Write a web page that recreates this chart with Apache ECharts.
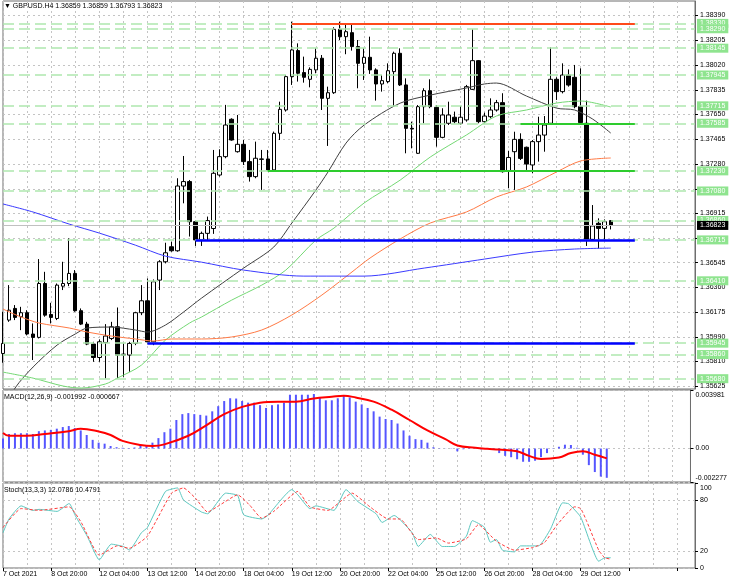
<!DOCTYPE html>
<html>
<head>
<meta charset="utf-8">
<script src="https://cdn.jsdelivr.net/npm/echarts@6/dist/echarts.min.js"></script>
<style>
  html, body { margin: 0; padding: 0; background: #fff; }
  #chart { width: 730px; height: 584px; }
</style>
</head>
<body>
<div id="chart"></div>
<script>
// ---- data ----
const tickLabels = ['7 Oct 2021', '8 Oct 20:00', '12 Oct 04:00', '13 Oct 12:00', '14 Oct 20:00',
  '18 Oct 04:00', '19 Oct 12:00', '20 Oct 20:00', '22 Oct 04:00', '25 Oct 12:00',
  '26 Oct 20:00', '28 Oct 04:00', '29 Oct 12:00'];

// H4 bars, MT4 order: open, high, low, close
const bars = [
  [1.35868, 1.36179, 1.35799, 1.35943], [1.36117, 1.36378, 1.36104, 1.36191], [1.36204, 1.36229, 1.36117, 1.36137],
  [1.36142, 1.36216, 1.36042, 1.36172], [1.36172, 1.36191, 1.36003, 1.36013], [1.36013, 1.36092, 1.35819, 1.35988],
  [1.35988, 1.36572, 1.35980, 1.36390], [1.36390, 1.36477, 1.36142, 1.36154], [1.36159, 1.36246, 1.36092, 1.36137],
  [1.36129, 1.36390, 1.36117, 1.36378], [1.36370, 1.36552, 1.36341, 1.36390], [1.36390, 1.36726, 1.36370, 1.36465],
  [1.36465, 1.36490, 1.36179, 1.36187], [1.36187, 1.36204, 1.36080, 1.36087], [1.36087, 1.36104, 1.35930, 1.35938],
  [1.35938, 1.35955, 1.35806, 1.35838], [1.35838, 1.35973, 1.35806, 1.35955], [1.35950, 1.36087, 1.35682, 1.35998],
  [1.35980, 1.36104, 1.35968, 1.36067], [1.36067, 1.36211, 1.35682, 1.35856], [1.35863, 1.35943, 1.35694, 1.35856],
  [1.35856, 1.35955, 1.35732, 1.35943], [1.35943, 1.36179, 1.35930, 1.36172], [1.36172, 1.36378, 1.36154, 1.36261],
  [1.36261, 1.36428, 1.35938, 1.35955], [1.35955, 1.36420, 1.35930, 1.36403], [1.36415, 1.36564, 1.36341, 1.36552],
  [1.36552, 1.36694, 1.36540, 1.36619], [1.36664, 1.36701, 1.36627, 1.36634], [1.36634, 1.37175, 1.36627, 1.37117],
  [1.37117, 1.37341, 1.36988, 1.37150], [1.37150, 1.37162, 1.36740, 1.36851], [1.36851, 1.36859, 1.36670, 1.36715],
  [1.36715, 1.36777, 1.36670, 1.36764], [1.36764, 1.36889, 1.36715, 1.36859], [1.36800, 1.37386, 1.36760, 1.37212],
  [1.37199, 1.37391, 1.37187, 1.37336], [1.37336, 1.37722, 1.37324, 1.37572], [1.37615, 1.37622, 1.37455, 1.37460],
  [1.37373, 1.37647, 1.37366, 1.37428], [1.37428, 1.37460, 1.37274, 1.37299], [1.37299, 1.37386, 1.37150, 1.37187],
  [1.37187, 1.37448, 1.37175, 1.37324], [1.37319, 1.37386, 1.37088, 1.37316], [1.37319, 1.37386, 1.37232, 1.37237],
  [1.37237, 1.37523, 1.37224, 1.37510], [1.37510, 1.37746, 1.37460, 1.37689], [1.37684, 1.37945, 1.37672, 1.37933],
  [1.37933, 1.38343, 1.37871, 1.38132], [1.38127, 1.38181, 1.37896, 1.37958], [1.37963, 1.38082, 1.37888, 1.37928],
  [1.37913, 1.38002, 1.37853, 1.37987], [1.37983, 1.38144, 1.37958, 1.38070], [1.38070, 1.38094, 1.37684, 1.37771],
  [1.37771, 1.37858, 1.37416, 1.37813], [1.37813, 1.38301, 1.37804, 1.38286], [1.38286, 1.38343, 1.38206, 1.38231],
  [1.38231, 1.38320, 1.38100, 1.38268], [1.38261, 1.38331, 1.38127, 1.38157], [1.38157, 1.38206, 1.37846, 1.38032],
  [1.38032, 1.38144, 1.37908, 1.38077], [1.38077, 1.38231, 1.37953, 1.37983], [1.37983, 1.37995, 1.37754, 1.37878],
  [1.37878, 1.37945, 1.37821, 1.37903], [1.37896, 1.38032, 1.37883, 1.37977], [1.37970, 1.38119, 1.37709, 1.38107],
  [1.38107, 1.38144, 1.37863, 1.37871], [1.37871, 1.37920, 1.37361, 1.37547], [1.37547, 1.37597, 1.37398, 1.37542],
  [1.37361, 1.37721, 1.37356, 1.37709], [1.37709, 1.37846, 1.37585, 1.37828], [1.37828, 1.37913, 1.37697, 1.37709],
  [1.37704, 1.37721, 1.37411, 1.37480], [1.37480, 1.37697, 1.37473, 1.37647], [1.37585, 1.37746, 1.37572, 1.37647],
  [1.37630, 1.37672, 1.37585, 1.37597], [1.37585, 1.37714, 1.37572, 1.37630], [1.37610, 1.37871, 1.37597, 1.37858],
  [1.37838, 1.38286, 1.37833, 1.38052], [1.38052, 1.38057, 1.37585, 1.37597], [1.37597, 1.37664, 1.37585, 1.37639],
  [1.37634, 1.37771, 1.37622, 1.37684], [1.37684, 1.37759, 1.37672, 1.37739], [1.37739, 1.37809, 1.37217, 1.37224],
  [1.37231, 1.37380, 1.37100, 1.37330], [1.37373, 1.37522, 1.37088, 1.37465], [1.37465, 1.37510, 1.37311, 1.37323],
  [1.37406, 1.37411, 1.37237, 1.37281], [1.37274, 1.37460, 1.37212, 1.37448], [1.37448, 1.37634, 1.37299, 1.37497],
  [1.37497, 1.37639, 1.37373, 1.37572], [1.37585, 1.38151, 1.37580, 1.37913], [1.37913, 1.37928, 1.37759, 1.37821],
  [1.37821, 1.38032, 1.37808, 1.37945], [1.37945, 1.37987, 1.37858, 1.37870], [1.37928, 1.38020, 1.37697, 1.37709],
  [1.37709, 1.37995, 1.37580, 1.37590], [1.37585, 1.37754, 1.36670, 1.36719], [1.36719, 1.36975, 1.36714, 1.36819],
  [1.36839, 1.36876, 1.36652, 1.36801], [1.36801, 1.36868, 1.36714, 1.36851], [1.36859, 1.36859, 1.36793, 1.36823]
];

// moving averages, [bar, price] read at points along each curve
const maBlack = [[1, 1.35500], [2, 1.35610], [5, 1.35767], [9, 1.35931], [12, 1.36013], [14, 1.36058], [18, 1.36065],
  [22, 1.36043], [24, 1.36028], [27, 1.36080], [30, 1.36177], [33, 1.36281], [40, 1.36505], [45, 1.36662],
  [48, 1.36841], [52, 1.37087], [54, 1.37221], [57, 1.37437], [60, 1.37571], [66, 1.37735], [71, 1.37795],
  [77, 1.37848], [80, 1.37878], [82, 1.37885], [87, 1.37788], [92, 1.37698], [95, 1.37684], [98, 1.37616], [101, 1.37512]];
const maGreen = [[0, 1.35729], [5, 1.35684], [10, 1.35625], [13, 1.35610], [17, 1.35640], [19, 1.35684], [23, 1.35781],
  [27, 1.35968], [31, 1.36095], [33, 1.36140], [38, 1.36266], [43, 1.36378], [47, 1.36490], [52, 1.36714],
  [55, 1.36803], [60, 1.36990], [66, 1.37161], [71, 1.37333], [77, 1.37497], [82, 1.37639], [87, 1.37684],
  [92, 1.37736], [96, 1.37751], [101, 1.37706]];
const maOrange = [[0, 1.36199], [3, 1.36140], [6, 1.36095], [11, 1.36058], [14, 1.36028], [18, 1.35998], [22, 1.35976],
  [25, 1.35961], [28, 1.35976], [33, 1.35976], [38, 1.35991], [43, 1.36043], [48, 1.36155], [53, 1.36304],
  [58, 1.36476], [61, 1.36580], [66, 1.36722], [71, 1.36841], [77, 1.36923], [82, 1.37035], [87, 1.37110],
  [92, 1.37222], [96, 1.37304], [101, 1.37326]];
const maBlue = [[0, 1.36983], [5, 1.36923], [11, 1.36833], [16, 1.36766], [22, 1.36676], [27, 1.36594], [33, 1.36549],
  [40, 1.36490], [50, 1.36445], [60, 1.36445], [70, 1.36505], [80, 1.36572], [88, 1.36624], [95, 1.36647], [101, 1.36654]];

// horizontal price levels
const dashedLevels = [1.38330, 1.38290, 1.38145, 1.37945, 1.37715, 1.37585, 1.37230, 1.37080,
  1.36860, 1.36715, 1.36410, 1.35945, 1.35860, 1.35680];
const solidLevels = [1.38330, 1.37585, 1.37230, 1.36715, 1.35945];
const solidFrom = [48, 86, 44, 32, 24];
const solidTo = 105;
const lastPrice = 1.36823;

const priceLabels = [1.38390, 1.38205, 1.38020, 1.37835, 1.37650, 1.37465, 1.37280, 1.36915,
  1.36545, 1.36360, 1.36175, 1.35990, 1.35810, 1.35625];
const priceGrid = [1.38390, 1.38205, 1.38020, 1.37835, 1.37650, 1.37465, 1.37280, 1.37095, 1.36915,
  1.36730, 1.36545, 1.36360, 1.36175, 1.35990, 1.35810, 1.35625];

// MACD(12,26,9)
const macdHist = [
  0.00068, 0.00099, 0.00104, 0.00104, 0.00104, 0.00099, 0.00118, 0.00123, 0.00127, 0.00135,
  0.00146, 0.00153, 0.00139, 0.00123, 0.00092, 0.00059, 0.00040, 0.00033, 0.00017, 0.00009,
  0.00005, 0.00003, 0.00007, 0.00017, 0.00024, 0.00040, 0.00071, 0.00111, 0.00135, 0.00194,
  0.00234, 0.00241, 0.00234, 0.00229, 0.00224, 0.00253, 0.00288, 0.00323, 0.00342, 0.00340,
  0.00323, 0.00312, 0.00312, 0.00295, 0.00276, 0.00295, 0.00300, 0.00312, 0.00366, 0.00366,
  0.00366, 0.00366, 0.00371, 0.00347, 0.00328, 0.00328, 0.00342, 0.00359, 0.00347, 0.00319,
  0.00300, 0.00276, 0.00253, 0.00217, 0.00201, 0.00194, 0.00170, 0.00123, 0.00087, 0.00064,
  0.00059, 0.00040, 0.00009, 0.00002, 0.00001, -0.00002, -0.00019, -0.00005, 0.00003, -0.00002,
  -0.00006, -0.00004, -0.00005, -0.00031, -0.00050, -0.00059, -0.00073, -0.00090, -0.00090, -0.00083,
  -0.00059, -0.00031, -0.00002, 0.00012, 0.00026, 0.00024, 0.00005, -0.00042, -0.00113, -0.00160,
  -0.00191, -0.001992
];
const macdSignal = [[0, 0.00106], [1, 0.00087], [4, 0.00087], [7, 0.00099], [11, 0.00118], [13, 0.00135],
  [16, 0.00116], [18, 0.00092], [20, 0.00052], [23, 0.00024], [25, 0.00017], [27, 0.00028], [31, 0.00087],
  [34, 0.00158], [37, 0.00234], [40, 0.00283], [43, 0.00312], [46, 0.00319], [49, 0.00319], [52, 0.00340],
  [55, 0.00352], [57, 0.00359], [59, 0.00347], [62, 0.00319], [65, 0.00264], [68, 0.00194], [71, 0.00123],
  [74, 0.00064], [76, 0.00021], [79, 0.00005], [81, -0.00002], [83, -0.00007], [86, -0.00019], [88, -0.00050],
  [90, -0.00071], [93, -0.00061], [95, -0.00031], [97, -0.00019], [99, -0.00042], [101, -0.000667]];
const macdLabels = [0.003981, 0, -0.002277];

// Stochastic(13,3,3)
const stochK = [[0, 41.5], [1, 57.7], [3, 73.1], [5, 67.8], [6, 69.0], [9, 66.6], [11, 75.9], [12, 61.8], [14, 37.4],
  [16, 9.5], [18, 28.1], [20, 25.3], [21, 21.2], [23, 41.5], [24, 47.6], [27, 90.1], [29, 94.2], [30, 80.0],
  [33, 65.8], [34, 63.8], [37, 88.1], [39, 85.3], [40, 62.6], [43, 57.7], [44, 61.8], [48, 92.2], [49, 86.1],
  [51, 69.9], [52, 73.1], [55, 67.8], [57, 92.2], [59, 78.0], [62, 63.8], [63, 53.6], [65, 61.8], [68, 41.5],
  [69, 25.3], [71, 39.5], [73, 25.3], [75, 25.3], [77, 37.4], [78, 55.7], [80, 48.0], [81, 30.3], [82, 33.5],
  [83, 21.0], [85, 19.0], [86, 26.0], [89, 26.0], [91, 46.0], [93, 76.7], [94, 75.5], [96, 60.0], [99, 8.0],
  [100, 12.0], [101, 12.0786]];
const stochD = [[0, 47.6], [3, 69.9], [6, 67.8], [11, 71.9], [13, 53.6], [16, 15.1], [19, 26.1], [21, 23.2],
  [24, 37.4], [28, 88.1], [30, 94.2], [32, 82.0], [34, 65.8], [36, 73.9], [39, 86.1], [41, 73.9], [43, 58.5],
  [45, 66.6], [49, 90.1], [51, 71.9], [54, 67.8], [58, 88.1], [61, 71.9], [64, 57.7], [66, 57.7], [69, 33.4],
  [72, 35.4], [74, 29.3], [77, 34.2], [79, 51.0], [82, 31.5], [85, 21.0], [88, 24.0], [90, 30.0], [92, 50.0],
  [95, 72.0], [96, 70.0], [97, 55.0], [99, 21.0], [100, 12.0], [101, 10.4791]];
const stochLabels = [100, 80, 20, 0];

// ---- chart ----
const FONT = 'Liberation Sans, Arial, sans-serif';
const SLOTS = 116;               // bar slots across the plot, incl. right-hand shift
const cats = Array.from({ length: SLOTS }, (_, i) => String(i));
const candles = bars.map(b => [b[0], b[3], b[2], b[1]]);

const dots = { show: true, lineStyle: { color: '#c4c4c4', type: [2, 3], width: 1 } };
const txt = { fontSize: 7, fontFamily: FONT, color: '#000' };
// end labels of the indicator windows sit inside the window
const edgeRich = {
  t: Object.assign({ padding: [11, 0, 0, 0] }, txt),
  b: Object.assign({ padding: [0, 0, 8, 0] }, txt)
};

function xAx(gi, withLabels) {
  return {
    type: 'category', gridIndex: gi, data: cats, boundaryGap: false,
    axisLine: { show: false },
    axisTick: { show: withLabels, interval: i => i % 8 === 0, length: 3, lineStyle: { color: '#000' } },
    axisLabel: Object.assign({
      show: withLabels, interval: i => i % 8 === 0, align: 'left', margin: 3,
      formatter: (v, i) => tickLabels[i / 8] || ''
    }, txt),
    splitLine: { show: true, interval: i => i % 4 === 0, lineStyle: dots.lineStyle }
  };
}

function yAx(gi, min, max, labels, grid, fmt) {
  return {
    type: 'value', gridIndex: gi, position: 'right', min: min, max: max,
    axisLine: { show: true, lineStyle: { color: '#6e6e6e', width: 1 } },
    axisTick: { show: true, length: 3, customValues: grid, lineStyle: { color: '#000' } },
    axisLabel: Object.assign({ customValues: labels, margin: 5, formatter: fmt, rich: edgeRich }, txt),
    splitLine: dots
  };
}

const gridBorder = { show: true, borderColor: '#6e6e6e', borderWidth: 1, backgroundColor: '#fff' };
const levelLabel = {
  show: true, position: 'end', distance: 2, fontSize: 7, fontFamily: FONT, color: '#ffffff', padding: [1, 3, 1, 3]
};

const option = {
  animation: false,
  backgroundColor: '#fff',
  title: [
    { text: '\u25BC GBPUSD.H4 1.36859 1.36859 1.36793 1.36823', left: 4, top: 3, padding: 0,
      textStyle: Object.assign({ fontWeight: 'normal' }, txt) },
    { text: 'MACD(12,26,9) -0.001992 -0.000667', left: 4, top: 394, padding: 0,
      textStyle: Object.assign({ fontWeight: 'normal' }, txt) },
    { text: 'Stoch(13,3,3) 12.0786 10.4791', left: 4, top: 487, padding: 0,
      textStyle: Object.assign({ fontWeight: 'normal' }, txt) }
  ],
  grid: [
    Object.assign({ left: 3, right: 35, top: 1, height: 388 }, gridBorder),
    Object.assign({ left: 3, right: 35, top: 390, height: 92 }, gridBorder),
    Object.assign({ left: 3, right: 35, top: 483, height: 85 }, gridBorder)
  ],
  xAxis: [xAx(0, false), xAx(1, false), xAx(2, true)],
  yAxis: [
    yAx(0, 1.35603, 1.38497, priceLabels, priceGrid, v => v.toFixed(5)),
    yAx(1, -0.002277, 0.003981, macdLabels, macdLabels,
      v => (v === 0 ? '0.00' : (v > 0 ? '{t|' + v.toFixed(6) + '}' : '{b|' + v.toFixed(6) + '}'))),
    yAx(2, 0, 100, stochLabels, stochLabels, v => (v === 100 ? '{t|100}' : String(v)))
  ],
  series: [
    {
      type: 'candlestick', xAxisIndex: 0, yAxisIndex: 0, data: candles, barWidth: 4, clip: false,
      itemStyle: { color: '#ffffff', color0: '#000000', borderColor: '#000000', borderColor0: '#000000', borderWidth: 1 }
    },
    { type: 'line', xAxisIndex: 0, yAxisIndex: 0, data: maBlack, showSymbol: false, smooth: 0.3,
      lineStyle: { color: '#404040', width: 1 }, z: 3 },
    {
      type: 'line', xAxisIndex: 0, yAxisIndex: 0, data: maGreen, showSymbol: false, smooth: 0.3,
      lineStyle: { color: '#74d874', width: 1 }, z: 3,
      markLine: {
        silent: true, symbol: 'none', precision: 5,
        data: dashedLevels.map(p => ({
          yAxis: p,
          lineStyle: { color: '#aee8ae', type: [11, 5], width: 1.5 },
          label: Object.assign({ formatter: p.toFixed(5), backgroundColor: '#8fe48f' }, levelLabel)
        })).concat([{
          yAxis: lastPrice,
          lineStyle: { color: '#c0c0c0', type: 'solid', width: 1 },
          label: Object.assign({ formatter: lastPrice.toFixed(5), backgroundColor: '#000000' }, levelLabel)
        }])
      }
    },
    { type: 'line', xAxisIndex: 0, yAxisIndex: 0, data: maOrange, showSymbol: false, smooth: 0.3,
      lineStyle: { color: '#ff7a45', width: 1 }, z: 3 },
    {
      type: 'line', xAxisIndex: 0, yAxisIndex: 0, data: maBlue, showSymbol: false, smooth: 0.3,
      lineStyle: { color: '#3a3aff', width: 1 }, z: 4,
      markLine: {
        silent: true, symbol: 'none', label: { show: false },
        data: solidLevels.map((p, k) => [
          { coord: [solidFrom[k], p],
            lineStyle: { color: ['#ff4a1a', '#2ecc2e', '#2ecc2e', '#0000ff', '#0000ff'][k], type: 'solid', width: k > 2 ? 2.5 : 2 } },
          { coord: [solidTo, p] }
        ])
      }
    },
    { type: 'bar', xAxisIndex: 1, yAxisIndex: 1, data: macdHist, barWidth: 2, itemStyle: { color: '#5555ff' } },
    { type: 'line', xAxisIndex: 1, yAxisIndex: 1, data: macdSignal, showSymbol: false, smooth: 0.4,
      lineStyle: { color: '#ff0000', width: 2 } },
    { type: 'line', xAxisIndex: 2, yAxisIndex: 2, data: stochK, showSymbol: false, smooth: 0.15,
      lineStyle: { color: '#5cc8c0', width: 1 } },
    { type: 'line', xAxisIndex: 2, yAxisIndex: 2, data: stochD, showSymbol: false, smooth: 0.15,
      lineStyle: { color: '#ff3b3b', width: 1, type: [3, 2] } }
  ]
};

const chart = echarts.init(document.getElementById('chart'));
chart.setOption(option);
</script>
</body>
</html>
